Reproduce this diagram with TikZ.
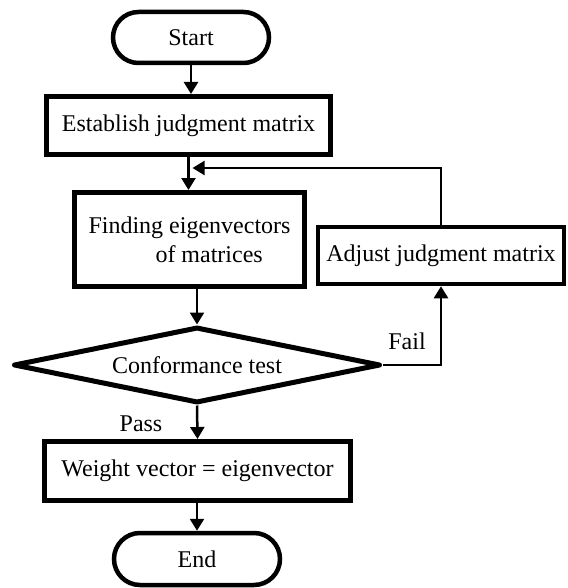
\documentclass[tikz,border=0pt]{standalone}
\usepackage{fontspec}
\setmainfont{Liberation Serif}
\usetikzlibrary{arrows.meta,shapes.geometric}
\begin{document}
\begin{tikzpicture}[x=1pt,y=-1pt,
  font=\fontsize{24}{29}\selectfont,
  box/.style={draw, line width=5pt, inner sep=0pt},
  term/.style={draw, line width=4.5pt, inner sep=0pt},
  arr/.style={line width=2.5pt, -{Triangle[length=12pt,width=14pt]}},
  fbarr/.style={line width=2pt, -{Triangle[length=12pt,width=14pt]}},
  lbl/.style={inner sep=0pt}]
\useasboundingbox (0,0) rectangle (567,588);
\node[term, rounded corners=25.5pt, minimum width=156pt, minimum height=51pt] (start) at (191,37.5) {Start};
\node[box, minimum width=284pt, minimum height=58pt] (est) at (188.5,125.5) {Establish judgment matrix};
\node[box, minimum width=230pt, minimum height=94pt, align=left] (fin) at (189.5,239.5) {Finding eigenvectors\\\hspace*{67pt}of matrices};
\node[box, line width=4.5pt, minimum width=246pt, minimum height=57pt] (adj) at (441,255.5) {Adjust judgment matrix};
\node[diamond, aspect=4.83, draw, line width=5pt, line join=round, minimum width=367pt, minimum height=76pt, inner sep=0pt] (dia) at (197,365) {Conformance test};
\node[box, minimum width=306pt, minimum height=59pt] (wt) at (197.5,471) {Weight vector = eigenvector};
\node[term, rounded corners=26pt, minimum width=166pt, minimum height=52pt] (end) at (197,559) {End};
\node[lbl] (fail) at (407,341) {Fail};
\node[lbl] (pass) at (141,424) {Pass};
\coordinate (fb) at (192.5,168);
\draw[arr] (start.south) -- (start.south |- est.north);
\draw[arr] (est.south) -- (est.south |- fin.north);
\draw[fbarr] (adj.north) |- (fb);
\draw[arr] (dia.north |- fin.south) -- (dia.north);
\draw[arr] (dia.east) -| (adj.south);
\draw[arr] (dia.south) -- (wt.north);
\draw[arr] (wt.south -| end.north) -- (end.north);
\end{tikzpicture}
\end{document}
